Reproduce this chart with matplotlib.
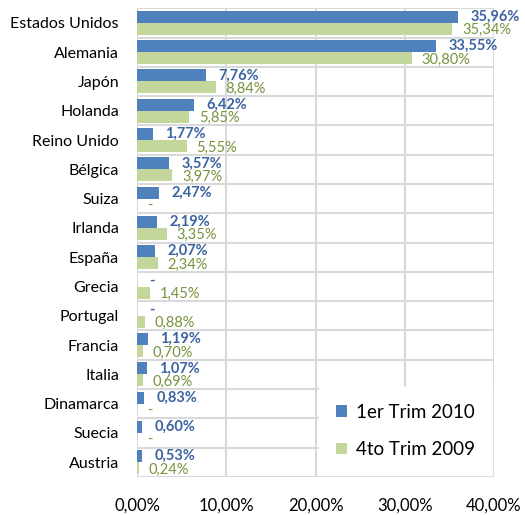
import numpy as np
import matplotlib.pyplot as plt

paises = ['Estados Unidos', 'Alemania', 'Japón', 'Holanda', 'Reino Unido',
          'Bélgica', 'Suiza', 'Irlanda', 'España', 'Grecia', 'Portugal',
          'Francia', 'Italia', 'Dinamarca', 'Suecia', 'Austria']
trim_2010 = [35.96, 33.55, 7.76, 6.42, 1.77, 3.57, 2.47, 2.19, 2.07, None,
             None, 1.19, 1.07, 0.83, 0.60, 0.53]
trim_2009 = [35.34, 30.80, 8.84, 5.85, 5.55, 3.97, None, 3.35, 2.34, 1.45,
             0.88, 0.70, 0.69, None, None, 0.24]
xticks = [0, 10, 20, 30, 40]

plt.rcParams['font.family'] = ['Lato', 'DejaVu Sans']

azul = '#4F81BD'
verde = '#C3D69B'
azul_txt = '#3A63A0'
verde_txt = '#77933C'

fig = plt.figure(figsize=(5.25, 5.15), dpi=100)
ax = fig.add_axes([0.261, 0.074, 0.680, 0.910])

y = np.arange(len(paises))
h = 0.41
v1 = [v if v is not None else 0 for v in trim_2010]
v2 = [v if v is not None else 0 for v in trim_2009]
ax.barh(y - h / 2, v1, height=h, color=azul, zorder=2, label='1er Trim 2010')
ax.barh(y + h / 2, v2, height=h, color=verde, zorder=2, label='4to Trim 2009')

def etiqueta(v):
    if v is None:
        return '-'
    return ('%.2f%%' % v).replace('.', ',')

for i in range(len(paises)):
    ax.annotate(etiqueta(trim_2010[i]), (v1[i], y[i] - h / 2), xytext=(9, 0),
                textcoords='offset points', ha='left', va='center',
                fontsize=10.5, fontweight='bold', color=azul_txt, zorder=3)
    ax.annotate(etiqueta(trim_2009[i]), (v2[i], y[i] + h / 2), xytext=(7, -1),
                textcoords='offset points', ha='left', va='center',
                fontsize=10.5, color=verde_txt, zorder=3)

ax.set_xlim(0, 40)
ax.set_ylim(len(paises) - 0.5, -0.5)
ax.set_xticks(xticks)
ax.set_xticklabels([('%.2f%%' % t).replace('.', ',') for t in xticks], fontsize=12)
ax.set_yticks(y)
ax.set_yticklabels(paises, fontsize=11.5)
ax.set_yticks(np.arange(len(paises) + 1) - 0.5, minor=True)
ax.tick_params(axis='both', length=0, which='both')
ax.tick_params(axis='x', pad=15)
ax.tick_params(axis='y', pad=13)
ax.grid(axis='x', color='#D9D9D9', linewidth=1.5, zorder=0)
ax.grid(axis='y', which='minor', color='#D9D9D9', linewidth=1.5, zorder=0)
ax.grid(axis='y', which='major', visible=False)
for s in ax.spines.values():
    s.set_visible(False)

leg = ax.legend(loc='lower right', bbox_to_anchor=(1.0, 0.0), frameon=True,
                fontsize=13.5, handlelength=0.6, handleheight=0.6,
                labelspacing=1.1, handletextpad=0.5, borderpad=0.9,
                borderaxespad=0.1)
leg.get_frame().set_facecolor('white')
leg.get_frame().set_edgecolor('white')
leg.get_frame().set_alpha(1)
leg.get_frame().set_boxstyle('square', pad=0)
leg.set_zorder(5)

plt.savefig('out.png', dpi=100)
